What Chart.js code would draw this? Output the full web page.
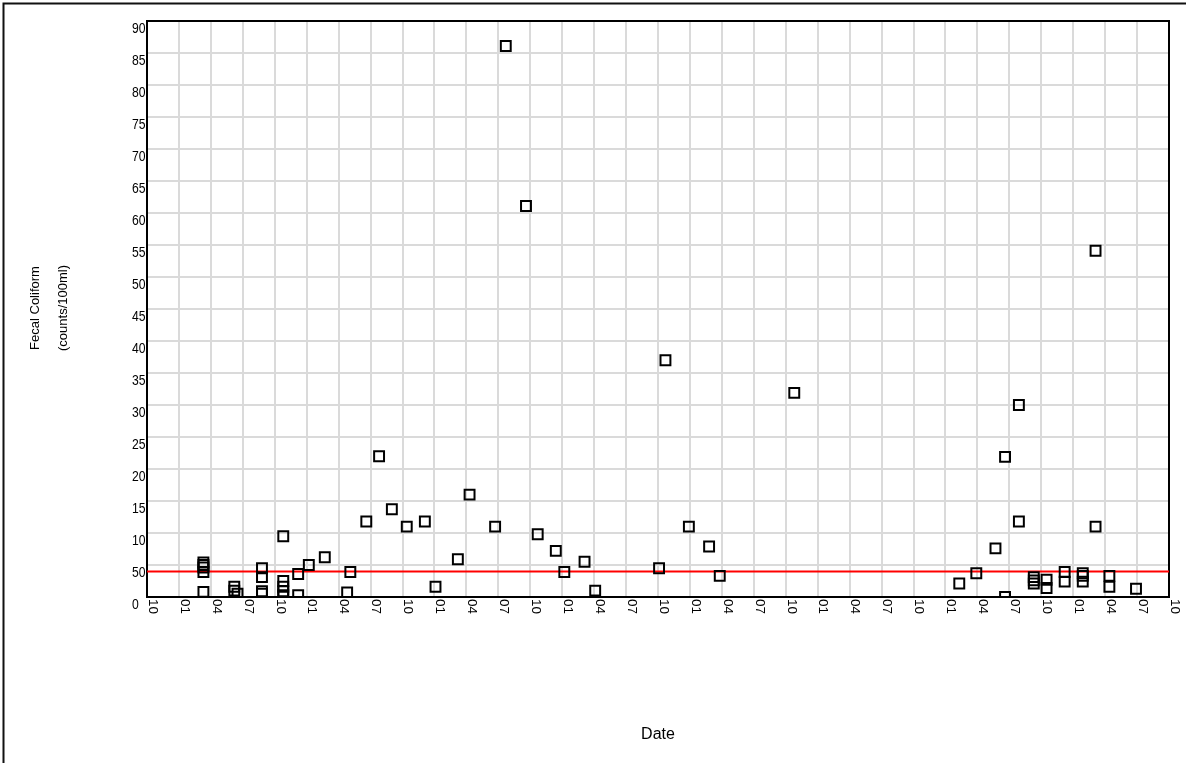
<!DOCTYPE html>
<html>
<head>
<meta charset="utf-8">
<title>Fecal Coliform</title>
<script src="https://cdn.jsdelivr.net/npm/chart.js@4.4.0/dist/chart.umd.min.js"></script>
<style>
    html, body { margin: 0; padding: 0; background: #fff; }
    #grafico { display: block; }
</style>
</head>
<body>
<canvas id="grafico" width="1186" height="763"></canvas>
<script>
// Datas das amostras (meses contados a partir do primeiro outubro do eixo)
const sampleMonths = [
    5.3, 5.3, 5.3, 5.3, 5.3,
    8.2, 8.2, 8.5,
    10.8, 10.8, 10.8, 10.8,
    12.8, 12.8, 12.8, 12.8, 12.8,
    14.2, 14.2, 15.2, 16.7, 18.8, 19.1, 20.6, 21.8, 23.0, 24.4, 26.1, 27.1,
    29.2, 30.3, 32.7, 33.7, 35.6, 36.7, 38.4, 39.2, 41.1, 42.1,
    48.1, 48.7, 50.9, 52.8, 53.8, 60.8,
    76.3, 77.9, 79.7, 80.6, 80.6, 81.9, 81.9,
    83.3, 83.3, 83.3, 84.5, 84.5, 86.2, 86.2,
    87.9, 87.9, 87.9, 89.1, 89.1, 90.4, 90.4, 92.9
];
// Coliformes fecais (counts/100ml)
const fecalColiform = [
    54, 50, 46, 39, 8,
    16, 10, 5,
    45, 31, 9, 5,
    95, 25, 16, 9, 3,
    36, 3, 50, 62, 7, 39, 118, 220, 137, 110, 118, 16,
    59, 160, 110, 861, 611, 98, 72, 39, 55, 10,
    45, 370, 110, 79, 33, 319,
    21, 37, 76, 219, 0, 300, 118,
    31, 26, 21, 27, 14, 39, 24,
    37, 33, 24, 110, 541, 33, 16, 13
];
// Limite de referência (linha vermelha)
const standardLimit = 40;

// Eixos
const monthRange = [0, 96];
const quarterStep = 3;
const countRange = [0, 900];
const countStep = 50;
const yTitleLines = ['Fecal Coliform', '(counts/100ml)'];
const xTitle = 'Date';

const fonte = '"Liberation Sans", Arial, sans-serif';

// Rótulo do trimestre: mês com dois dígitos (10, 01, 04, 07)
function quarterLabel(value) {
    const mes = ((9 + value) % 12) + 1;
    return String(mes).padStart(2, '0');
}

// Plugin para desenhar moldura, rótulos dos eixos e títulos
const desenhaEixos = {
    id: 'desenhaEixos',
    beforeDatasetsDraw(chart) {
        const { ctx, chartArea: a } = chart;
        ctx.save();
        ctx.strokeStyle = '#000';
        ctx.lineWidth = 2;
        ctx.strokeRect(a.left, a.top, a.right - a.left, a.bottom - a.top);
        ctx.restore();
    },
    afterDraw(chart) {
        const { ctx, chartArea: a, scales } = chart;
        const centroX = (a.left + a.right) / 2;
        const centroY = (a.top + a.bottom) / 2;
        ctx.save();
        ctx.fillStyle = '#000';

        // rótulos do eixo y (estreitos e cortados no eixo)
        ctx.save();
        ctx.beginPath();
        ctx.rect(0, 0, a.left - 1, chart.height);
        ctx.clip();
        ctx.font = '14px ' + fonte;
        ctx.textAlign = 'left';
        ctx.textBaseline = 'alphabetic';
        scales.y.ticks.forEach(t => {
            ctx.save();
            ctx.translate(a.left - 15, scales.y.getPixelForValue(t.value) + 11.5);
            ctx.scale(0.87, 1);
            ctx.fillText(String(t.value), 0, 0);
            ctx.restore();
        });
        ctx.restore();

        // rótulos do eixo x, girados
        ctx.font = '13.5px ' + fonte;
        scales.x.ticks.forEach(t => {
            const px = scales.x.getPixelForValue(t.value);
            ctx.save();
            ctx.translate(px + 5.5, a.bottom + 2);
            ctx.rotate(Math.PI / 2);
            ctx.textAlign = 'left';
            ctx.textBaseline = 'middle';
            ctx.fillText(quarterLabel(t.value), 0, 0);
            ctx.restore();
        });

        // título do eixo y (duas linhas)
        ctx.font = '13px ' + fonte;
        yTitleLines.forEach((linha, i) => {
            ctx.save();
            ctx.translate(39 + i * 28, centroY - 1);
            ctx.rotate(-Math.PI / 2);
            ctx.textAlign = 'center';
            ctx.textBaseline = 'alphabetic';
            ctx.fillText(linha, 0, 0);
            ctx.restore();
        });

        // título do eixo x
        ctx.font = '16px ' + fonte;
        ctx.textAlign = 'center';
        ctx.textBaseline = 'alphabetic';
        ctx.fillText(xTitle, centroX, 738.5);

        // moldura externa
        ctx.strokeStyle = '#111';
        ctx.lineWidth = 2;
        ctx.strokeRect(3.5, 3.5, chart.width + 20, chart.height + 20);
        ctx.restore();
    }
};

const pontos = sampleMonths.map((m, i) => ({ x: m, y: fecalColiform[i] }));
const linhaLimite = [
    { x: monthRange[0], y: standardLimit },
    { x: monthRange[1], y: standardLimit }
];

const ctx = document.getElementById('grafico').getContext('2d');
window.coliformChart = new Chart(ctx, {
    type: 'scatter',
    data: {
        datasets: [{
            label: 'Fecal Coliform',
            data: pontos,
            pointStyle: 'rect',
            pointRadius: 7,
            pointHoverRadius: 7,
            borderColor: '#000',
            borderWidth: 2,
            backgroundColor: 'rgba(0, 0, 0, 0)',
            clip: 0,
            order: 1
        }, {
            type: 'line',
            label: 'Standard',
            data: linhaLimite,
            borderColor: '#ff0000',
            borderWidth: 2,
            pointRadius: 0,
            fill: false,
            clip: 0,
            order: 2
        }]
    },
    options: {
        responsive: false,
        animation: false,
        devicePixelRatio: 1,
        layout: {
            padding: { left: 0, right: 17, top: 21, bottom: 0 }
        },
        scales: {
            x: {
                type: 'linear',
                min: monthRange[0],
                max: monthRange[1],
                ticks: { stepSize: quarterStep, display: false },
                grid: { color: '#dadada', lineWidth: 2, drawTicks: false },
                border: { display: false },
                afterFit(scale) { scale.height = 166; }
            },
            y: {
                min: countRange[0],
                max: countRange[1],
                ticks: { stepSize: countStep, display: false },
                grid: { color: '#dadada', lineWidth: 2, drawTicks: false },
                border: { display: false },
                afterFit(scale) { scale.width = 147; }
            }
        },
        plugins: {
            legend: { display: false },
            tooltip: { enabled: false }
        }
    },
    plugins: [desenhaEixos]
});
</script>
</body>
</html>
